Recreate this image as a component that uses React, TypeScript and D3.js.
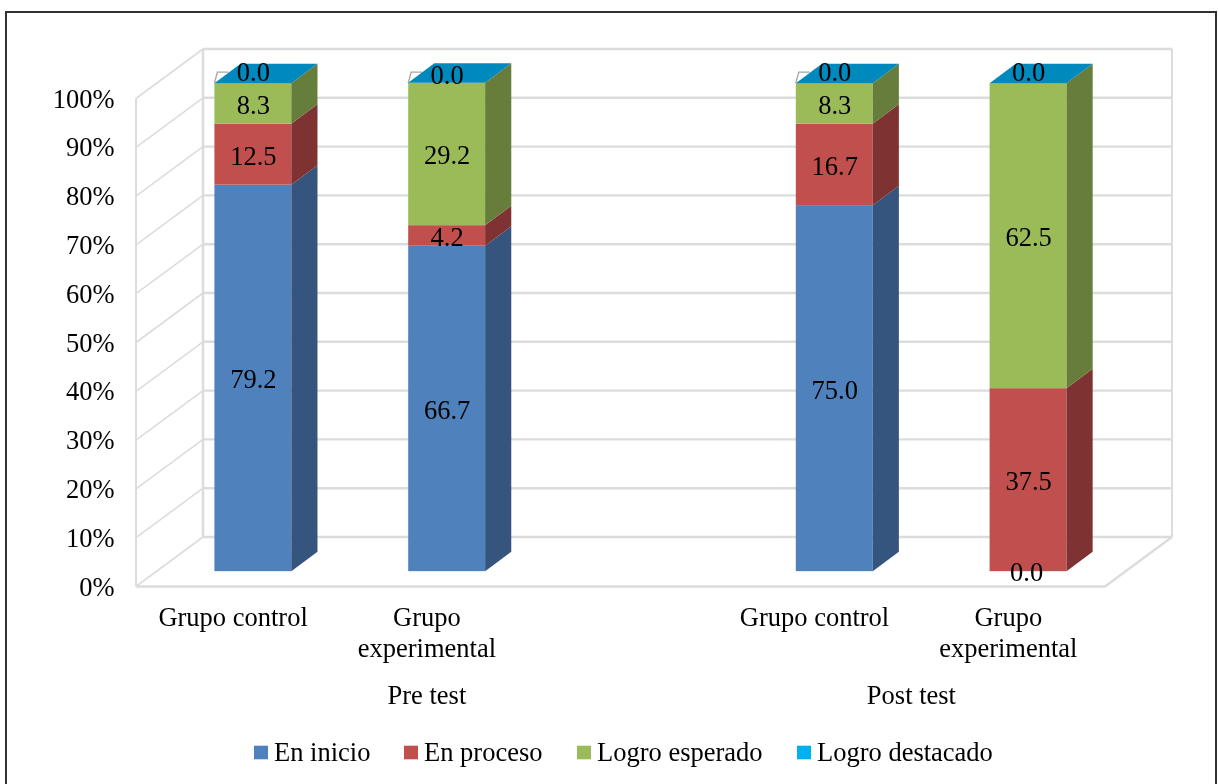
import React from "react";
import * as d3 from "d3";

const slots = ["a", "b", "gap", "c", "d"];
const columns = ["a", "b", "c", "d"];
const groupLines = [["Grupo control"], ["Grupo", "experimental"], ["Grupo control"], ["Grupo", "experimental"]];
const groups = ["Pre test", "Post test"];
const seriesNames = ["En inicio", "En proceso", "Logro esperado", "Logro destacado"];
const enInicio = [79.2, 66.7, 75.0, 0.0];
const enProceso = [12.5, 4.2, 16.7, 37.5];
const logroEsperado = [8.3, 29.2, 8.3, 62.5];
const logroDestacado = [0.0, 0.0, 0.0, 0.0];
const seriesValues = [enInicio, enProceso, logroEsperado, logroDestacado];
const yTicks = d3.range(0, 101, 10);
const frontColors = ["#4f81bd", "#c0504d", "#9bbb59", "#00b0f0"];
const sideColors = ["#34547e", "#7f3330", "#667d3b", "#0089bd"];
const FONT = "'Liberation Serif', 'Times New Roman', serif";
const FS = 26.5;
const GRID = "#dcdcdc";

const y = d3.scaleLinear().domain([0, 100]).range([586.5, 98.5]);
const x = d3.scaleBand<string>().domain(slots).range([135.2, 1104.2]).paddingInner(0.603).paddingOuter(0.3015);
const depthX = 67;
const depthY = 49.5;
const px = (xv: number, z: number) => xv + z * depthX;
const py = (yv: number, z: number) => y(yv) - z * depthY;
const Z0 = 0.31;
const Z1 = 0.7;
const line = d3.line<[number, number]>();

export default function App() {
  const bw = x.bandwidth();
  const xEnd = 1105;
  const xStart = 136;
  const stacks = columns.map((c, ci) => {
    let acc = 0;
    return seriesValues.map((vals, si) => {
      const v0 = acc;
      acc += vals[ci];
      return { c, ci, si, v0, v1: acc, v: vals[ci] };
    });
  });
  return (
    <svg width={1218} height={784} style={{ position: "fixed", left: 0, top: 0, background: "#fff" }} fontFamily={FONT} fontSize={FS} fill="#000">
      <defs>
        <filter id="soft" x="0" y="0" width="100%" height="100%" filterUnits="userSpaceOnUse" primitiveUnits="userSpaceOnUse">
          <feGaussianBlur stdDeviation="0.45" />
        </filter>
      </defs>
      <rect width={1218} height={784} fill="#fff" />
      <g filter="url(#soft)">
        <path d="M6,790 V12 H1216 V790" fill="none" stroke="#333" strokeWidth={2} />
        {/* walls */}
        <g fill="none" stroke={GRID}>
          {yTicks.map((t) => (
            <path key={"l" + t} d={line([[px(xStart, 0), py(t, 0)], [px(xStart, 1), py(t, 1)]])!} strokeWidth={1.6} />
          ))}
          <path d={line([[px(xStart, 0), py(0, 0)], [px(xStart, 0), py(100, 0)]])!} strokeWidth={2} />
          <path d={line([[px(xStart, 1), py(0, 1)], [px(xStart, 1), py(100, 1)]])!} strokeWidth={2.5} />
          <path d={line([[px(xEnd, 1), py(0, 1)], [px(xEnd, 1), py(100, 1)]])!} strokeWidth={2} />
          {yTicks.map((t) => (
            <path key={"g" + t} d={line([[px(xStart, 1), py(t, 1)], [px(xEnd, 1), py(t, 1)]])!} strokeWidth={2.4} />
          ))}
          <path d={line([[px(xStart, 0), py(0, 0)], [px(xEnd, 0), py(0, 0)], [px(xEnd, 1), py(0, 1)]])!} strokeWidth={2.4} />
        </g>
        {/* small outlines of the empty top series */}
        {columns.slice(0, 3).map((c) => {
          const x0 = px(x(c)!, Z0);
          const yTop = py(100, Z0);
          return <path key={"o" + c} d={line([[x0, yTop], [x0 + 3, yTop - 11], [x0 + 14, yTop - 11]])!} fill="none" stroke="#a6a6a6" strokeWidth={1.4} />;
        })}
        {/* bars */}
        {stacks.map((stack) =>
          stack.map((s) => {
            const x0 = px(x(s.c)!, Z0);
            const x1 = x0 + bw;
            const xb = px(x(s.c)! + bw, Z1);
            const top = py(s.v1, Z0);
            const bot = py(s.v0, Z0);
            const topB = py(s.v1, Z1);
            const botB = py(s.v0, Z1);
            return (
              <g key={s.c + s.si}>
                {s.v > 0 && <rect x={x0} y={top} width={bw} height={bot - top} fill={frontColors[s.si]} />}
                {s.v > 0 && <path d={line([[x1, top], [xb, topB], [xb, botB], [x1, bot]])! + "Z"} fill={sideColors[s.si]} />}
                {s.si === 3 && (
                  <path d={line([[x0, top], [px(x(s.c)!, Z1), topB], [xb, topB], [x1, top]])! + "Z"} fill={sideColors[3]} />
                )}
              </g>
            );
          })
        )}
        {/* data labels */}
        {stacks.map((stack) =>
          stack.map((s) => {
            const xc = px(x(s.c)!, Z0) + bw / 2 + 0.5;
            const yc = py((s.v0 + s.v1) / 2, Z0);
            const isTop = s.si === 3;
            if (s.v === 0 && s.si === 0) return null;
            const dy = isTop ? (s.ci === 1 ? -8 : -11) : 1.5;
            return (
              <text key={"t" + s.c + s.si} x={xc} y={yc + dy} textAnchor="middle" dominantBaseline="central">
                {s.v.toFixed(1)}
              </text>
            );
          })
        )}
        {/* the zero of the first series in the last column */}
        <text x={px(x("d")!, Z0) + bw / 2 - 1.5} y={py(0, Z0) + 1} textAnchor="middle" dominantBaseline="central">
          {enInicio[3].toFixed(1)}
        </text>
        {/* y axis */}
        {yTicks.map((t) => (
          <text key={"y" + t} x={114.5} y={y(t)} textAnchor="end" dominantBaseline="central">
            {t}%
          </text>
        ))}
        {/* category labels */}
        {columns.map((c, i) => (
          <text key={"c" + c} textAnchor="middle">
            {groupLines[i].map((l, li) => (
              <tspan key={li} x={x(c)! + bw / 2 + 1} y={626 + li * 31}>
                {l}
              </tspan>
            ))}
          </text>
        ))}
        {groups.map((g, i) => (
          <text key={g} x={(i === 0 ? x("b")! + bw / 2 : (x("c")! + x("d")! + bw) / 2) + 1} y={704} textAnchor="middle">
            {g}
          </text>
        ))}
        {/* legend */}
        {seriesNames.map((n, i) => {
          const lx = [254, 404, 577, 797][i];
          return (
            <g key={n}>
              <rect x={lx} y={745.7} width={14} height={13.6} fill={frontColors[i]} />
              <text x={lx + 20} y={761}>
                {n}
              </text>
            </g>
          );
        })}
      </g>
    </svg>
  );
}
